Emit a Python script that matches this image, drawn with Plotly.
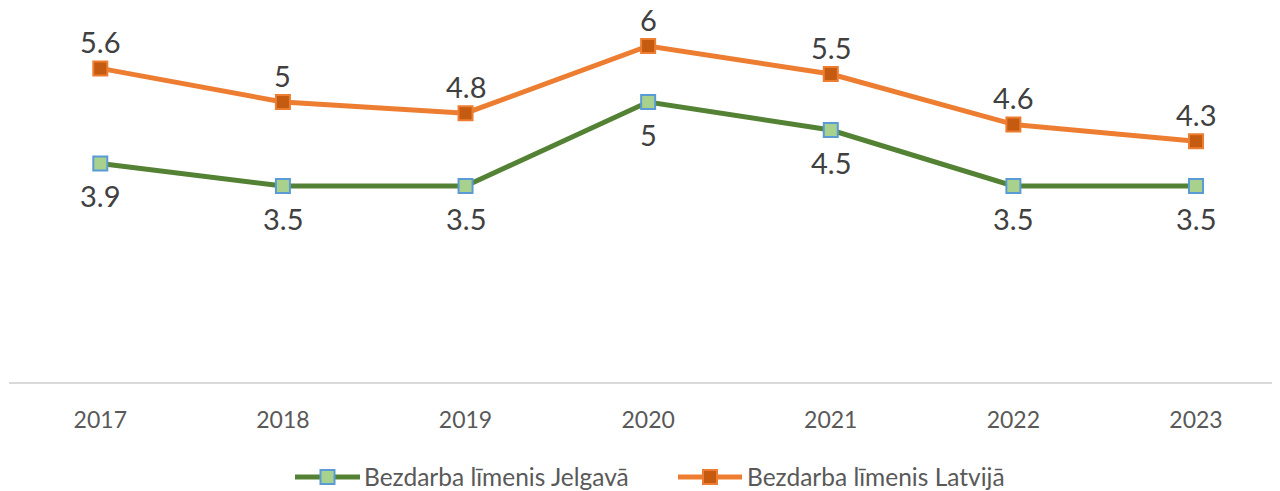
import plotly.graph_objects as go

years = ["2017", "2018", "2019", "2020", "2021", "2022", "2023"]
jelgava = [3.9, 3.5, 3.5, 5, 4.5, 3.5, 3.5]
latvija = [5.6, 5, 4.8, 6, 5.5, 4.6, 4.3]
names = ["Bezdarba līmenis Jelgavā", "Bezdarba līmenis Latvijā"]

FONT = "Lato, 'Open Sans', sans-serif"
TXT = "#404040"
OFF = 8  # default page body margin
W, H = 1280, 491 - OFF
ML, MR, MT = 1, 8, 0
PLOT_BOTTOM = 382 - OFF
MB = H - PLOT_BOTTOM
PW, PH = W - ML - MR, PLOT_BOTTOM - MT

series = [
    dict(name=names[0], y=jelgava, line="#548235", fill="#A9D18E", edge="#5B9BD5", shift=-32),
    dict(name=names[1], y=latvija, line="#ED7D31", fill="#C55A11", edge="#ED7D31", shift=27),
]

fig = go.Figure()
for s in series:
    fig.add_trace(go.Scatter(
        x=list(range(len(years))), y=s["y"], name=s["name"], mode="lines+markers",
        line=dict(color=s["line"], width=5),
        marker=dict(symbol="square", size=14, color=s["fill"],
                    line=dict(color=s["edge"], width=2)),
        showlegend=False,
    ))
    for i, v in enumerate(s["y"]):
        fig.add_annotation(x=i, y=v, text=f"{v:g}", showarrow=False, yshift=s["shift"],
                           font=dict(size=29, color=TXT, family=FONT))

# manual legend (screen pixel positions converted to paper coords)
def px(x):
    return (x - OFF - ML) / PW

def py(y):
    return (PLOT_BOTTOM - (y - OFF)) / PH

leg_y = 477
leg_items = [(295, 360, 362), (678, 742, 745)]
for s, (x0, x1, tx) in zip(series, leg_items):
    fig.add_shape(type="line", xref="paper", yref="paper",
                  x0=px(x0), x1=px(x1), y0=py(leg_y), y1=py(leg_y),
                  line=dict(color=s["line"], width=5))
    cx = (x0 + x1) / 2
    fig.add_shape(type="rect", xref="paper", yref="paper",
                  x0=px(cx - 7), x1=px(cx + 7), y0=py(leg_y + 7), y1=py(leg_y - 7),
                  fillcolor=s["fill"], line=dict(color=s["edge"], width=2))
    fig.add_annotation(xref="paper", yref="paper", x=px(tx), y=py(leg_y - 1),
                       xanchor="left", yanchor="middle", text=s["name"], showarrow=False,
                       font=dict(size=24.5, color="#595959", family=FONT))

fig.update_layout(
    width=W, height=H,
    margin=dict(l=ML, r=MR, t=MT, b=MB, autoexpand=False),
    paper_bgcolor="white", plot_bgcolor="white",
    showlegend=False,
    xaxis=dict(range=[-0.5, 6.46], showgrid=False, automargin=False,
               tickmode="array", tickvals=list(range(len(years))), ticktext=years,
               showline=True, linecolor="#D9D9D9", linewidth=2,
               ticks="", ticklabelstandoff=16,
               tickfont=dict(size=23, color="#595959", family=FONT),
               zeroline=False),
    yaxis=dict(range=[0, PH / 56.0], visible=False, showgrid=False, zeroline=False,
               automargin=False),
)

fig.write_html("out.html")
